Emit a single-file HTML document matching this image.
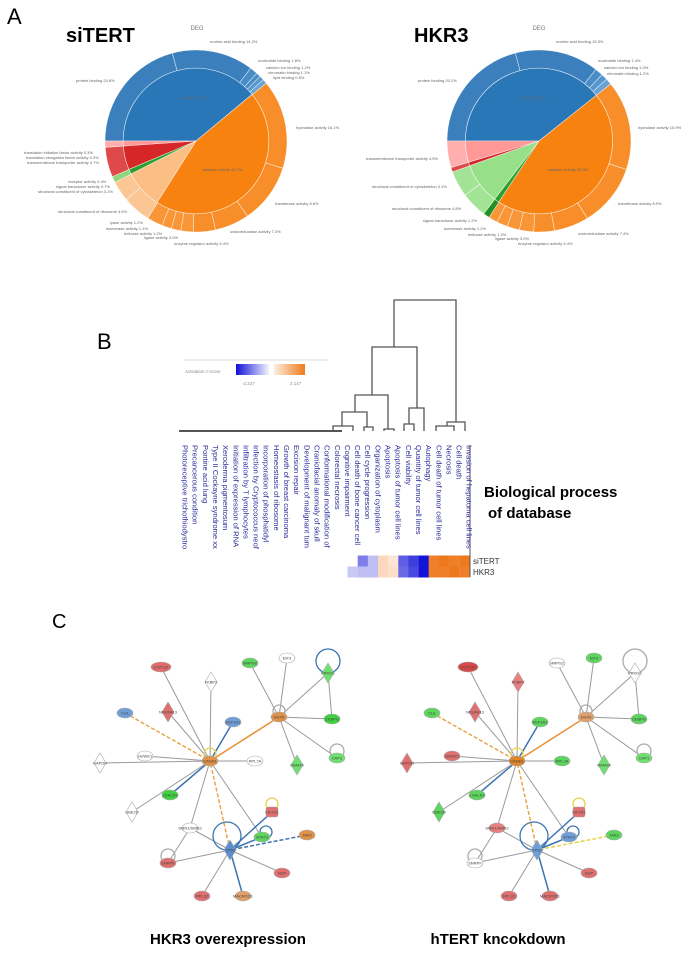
<!DOCTYPE html>
<html><head><meta charset="utf-8"><style>
html,body{margin:0;padding:0;background:#fff;}
svg{display:block;font-family:"Liberation Sans",sans-serif;}
</style></head><body>
<svg id="fig" width="688" height="953" viewBox="0 0 688 953" xmlns="http://www.w3.org/2000/svg">
<text x="7" y="24" font-size="22">A</text>
<text x="66" y="42" font-size="20" font-weight="bold">siTERT</text>
<text x="414" y="42" font-size="20" font-weight="bold">HKR3</text>
<text x="197" y="30" font-size="6" fill="#777" text-anchor="middle">DEG</text>
<text x="539" y="30" font-size="6" fill="#777" text-anchor="middle">DEG</text>
<g id="pies"></g>
<g id="pielabels" font-size="4" fill="#666">
<text x="210" y="43">nucleic acid binding 14.2%</text>
<text x="258" y="62">nucleotide binding 1.8%</text>
<text x="266" y="69">calcium ion binding 1.2%</text>
<text x="268" y="74">chromatin binding 1.1%</text>
<text x="273" y="79">lipid binding 0.5%</text>
<text x="76" y="82">protein binding 20.8%</text>
<text x="180" y="99">binding 39.7%</text>
<text x="296" y="129">hydrolase activity 16.1%</text>
<text x="24" y="154">translation initiation factor activity 0.3%</text>
<text x="26" y="159">translation elongation factor activity 0.3%</text>
<text x="27" y="164">transmembrane transporter activity 0.7%</text>
<text x="202" y="171">catalytic activity 44.7%</text>
<text x="68" y="183">receptor activity 0.4%</text>
<text x="56" y="188">signal transducer activity 0.7%</text>
<text x="38" y="193">structural constituent of cytoskeleton 3.1%</text>
<text x="275" y="205">transferase activity 8.6%</text>
<text x="58" y="213">structural constituent of ribosome 4.6%</text>
<text x="110" y="224">lyase activity 1.2%</text>
<text x="106" y="230">isomerase activity 1.1%</text>
<text x="124" y="235">helicase activity 1.2%</text>
<text x="144" y="239">ligase activity 3.0%</text>
<text x="230" y="233">oxidoreductase activity 7.3%</text>
<text x="174" y="245">enzyme regulator activity 4.4%</text>
<text x="556" y="43">nucleic acid binding 15.5%</text>
<text x="598" y="62">nucleotide binding 1.4%</text>
<text x="604" y="69">calcium ion binding 1.0%</text>
<text x="607" y="75">chromatin binding 1.2%</text>
<text x="418" y="82">protein binding 20.1%</text>
<text x="520" y="99">binding 39.9%</text>
<text x="638" y="129">hydrolase activity 15.9%</text>
<text x="366" y="160">transmembrane transporter activity 4.9%</text>
<text x="548" y="171">catalytic activity 44.3%</text>
<text x="372" y="188">structural constituent of cytoskeleton 3.1%</text>
<text x="392" y="210">structural constituent of ribosome 4.8%</text>
<text x="618" y="205">transferase activity 8.9%</text>
<text x="423" y="222">signal transducer activity 1.2%</text>
<text x="444" y="230">isomerase activity 1.2%</text>
<text x="468" y="236">helicase activity 1.2%</text>
<text x="495" y="240">ligase activity 3.0%</text>
<text x="578" y="235">oxidoreductase activity 7.4%</text>
<text x="518" y="245">enzyme regulator activity 4.4%</text>
</g>

<text x="97" y="349" font-size="22">B</text>
<g>
<line x1="184" y1="360" x2="328" y2="360" stroke="#ddd" stroke-width="1"/>
<defs>
<linearGradient id="gb" x1="0" x2="1"><stop offset="0" stop-color="#1010d8"/><stop offset="1" stop-color="#f4f4ff"/></linearGradient>
<linearGradient id="go" x1="0" x2="1"><stop offset="0" stop-color="#fdeede"/><stop offset="1" stop-color="#ee7a1c"/></linearGradient>
</defs>
<text x="185" y="373" font-size="4.5" fill="#888">Activation z-score</text>
<rect x="236" y="364" width="33" height="11" fill="url(#gb)"/>
<rect x="274" y="364" width="31" height="11" fill="url(#go)"/>
<text x="242" y="385" font-size="4.5" fill="#888">-2.227</text>
<text x="290" y="385" font-size="4.5" fill="#888">2.147</text>
</g>
<g id="dendro" stroke="#555" stroke-width="1.3" fill="none"></g>
<g id="heat"></g>
<text x="484" y="497" font-size="15" font-weight="bold">Biological process</text>
<text x="488" y="518" font-size="15" font-weight="bold">of database</text>

<text x="52" y="628" font-size="20">C</text>
<g id="netL"></g>
<g id="netR" transform="translate(307,0)"></g>
<text x="228" y="944" font-size="15" font-weight="bold" text-anchor="middle">HKR3 overexpression</text>
<text x="498" y="944" font-size="15" font-weight="bold" text-anchor="middle">hTERT kncokdown</text>
</svg>
<script>
const NS='http://www.w3.org/2000/svg';
function mk(tag,attrs,parent){const e=document.createElementNS(NS,tag);for(const k in attrs)e.setAttribute(k,attrs[k]);parent.appendChild(e);return e;}

/* ---------- Pie data (percent, starting at 9 o'clock, clockwise) ---------- */
const leftInnerVals=[39.2,45.3,8.6,1.1,5.3,1.1];
const leftInnerCols=['#2a77b8','#f7820f','#fbbf85','#2ca02c','#d62728','#ff9896'];
const leftOuterVals=[20.8,14.4,1.4,0.8,0.8,0.8,15.8,10.6,6.1,3.9,2.2,1.7,1.7,2.8,5.0,3.6,1.1,5.3,1.1];
const leftOuterCols=['#3b80bd','#3b80bd','#4a8cc6','#4a8cc6','#5696cc','#6aa3d3','#f78e2a','#f78e2a','#f78e2a','#f78e2a','#f89638','#f89638','#f89638','#f89638','#fcc594','#fcc594','#8fd67f','#de4a4a','#ffb0ae'];
const rightInnerVals=[39.2,45.0,1.1,9.2,0.8,4.7];
const rightInnerCols=['#2a77b8','#f7820f','#2ca02c','#98df8a','#d62728','#ff9896'];
const rightOuterVals=[20.8,14.7,1.4,1.1,1.1,15.8,11.1,6.1,3.6,2.5,2.2,1.9,1.6,1.1,4.6,4.6,0.8,4.7];
const rightOuterCols=['#3b80bd','#3b80bd','#4a8cc6','#5696cc','#6aa3d3','#f78e2a','#f78e2a','#f78e2a','#f78e2a','#f89638','#f89638','#f89638','#f89638','#238f23','#a3e396','#a3e396','#de4a4a','#ffb0ae'];

function drawPie(cx,cy,rx,ry,innerVals,innerCols,outerVals,outerCols,name){
  const g=mk('g',{},document.getElementById('pies'));
  
  
  function ring(vals,cols,r0,r1,kind){
    const tot=vals.reduce((a,b)=>a+b,0);let a=270;
    vals.forEach((v,i)=>{
      const a1=a+v/tot*360;
      const p=(ang,r)=>{const t=ang*Math.PI/180;return [cx+r*rx*Math.sin(t),cy-r*ry*Math.cos(t)];};
      const large=(a1-a)>180?1:0;
      const [x0,y0]=p(a,r1),[x1,y1]=p(a1,r1),[x2,y2]=p(a1,r0),[x3,y3]=p(a,r0);
      let d='M'+x0+' '+y0+' A'+(r1*rx)+' '+(r1*ry)+' 0 '+large+' 1 '+x1+' '+y1;
      if(r0>0) d+=' L'+x2+' '+y2+' A'+(r0*rx)+' '+(r0*ry)+' 0 '+large+' 0 '+x3+' '+y3+' Z';
      else d+=' L'+cx+' '+cy+' Z';
      const s=mk('path',{d:d,fill:cols[i],stroke:'#fff','stroke-width':'0.6','stroke-opacity':'0.7'},g);
      
      
      a=a1;
    });
  }
  ring(outerVals,outerCols,0.8,1,'outer');
  ring(innerVals,innerCols,0,0.8,'inner');
}
drawPie(196,141,91,91,leftInnerVals,leftInnerCols,leftOuterVals,leftOuterCols,'pie-siTERT');
drawPie(539,141,92,91,rightInnerVals,rightInnerCols,rightOuterVals,rightOuterCols,'pie-HKR3');

/* ---------- Panel B ---------- */
const bioLabels=['Photoreceptive trichothiodystro','Precancerous condition','Pontine acid lung','Type II Cockayne syndrome xx','Xeroderma pigmentosum','Initiation of expression of RNA','Infiltration by T lymphocytes','Infection by Cryptococcus neof','Incorporation of phosphatidyl','Homeostasis of ribosome','Growth of breast carcinoma','Excision repair','Development of malignant tum','Craniofacial anomaly of skull','Conformational modification of','Colorectal necrosis','Cognitive impairment','Cell death of bone cancer cell','Cell cycle progression','Organization of cytoplasm','Apoptosis','Apoptosis of tumor cell lines','Cell viability','Quantity of tumor cell lines','Autophagy','Cell death of tumor cell lines','Necrosis','Cell death','Invasion of hepatoma cell lines'];
const heatRows=['siTERT','HKR3'];
const heatStart=17;
const siTERTz=[0,-1.2,-0.6,0.6,0.4,-1.5,-1.8,-2.2,2.0,2.1,2.0,2.1];
const HKR3z=[-0.5,-0.6,-0.6,0.6,0.5,-1.4,-1.7,-2.2,2.0,2.0,2.1,2.0];
const zMin=-2.227, zMax=2.147;

const colX=i=>180+10.15*i;
const svgB=document.getElementById('fig');
const lg=mk('g',{'font-size':'7.6',fill:'#2a2a9a'},svgB);


bioLabels.forEach((t,i)=>{
  const x=colX(i)+2.5,y=445;
  const e=mk('text',{x:x,y:y,transform:'rotate(90 '+x+' '+y+')'},lg);
  e.textContent=t;
  
  
});
function zColor(z){
  const mix=(c,t)=>{const w=[255,255,255];return 'rgb('+c.map((v,k)=>Math.round(w[k]+(v-w[k])*t)).join(',')+')';};
  if(z<0) return mix([16,16,216],Math.min(1,z/zMin));
  return mix([238,118,24],Math.min(1,z/zMax));
}
const heat=document.getElementById('heat');
[siTERTz,HKR3z].forEach((row,r)=>{
  row.forEach((z,j)=>{
    const x=colX(heatStart+j)-5;
    const c=mk('rect',{x:x,y:555.5+r*11,width:10.3,height:11,fill:zColor(z)},heat);
    
    
  });
  const t=mk('text',{x:473,y:564+r*11,'font-size':'8',fill:'#333'},heat);
  t.textContent=heatRows[r];
  
  
});
mk('line',{x1:470,y1:445,x2:470,y2:577,stroke:'#555','stroke-width':'1'},heat);

/* dendrogram links: [leftX,rightX,joinY,leftBottomY,rightBottomY] */
const dendroLinks=[[394,456,300,347,422],[372,417,347,395,408],[355,388,395,412,429],[342,367,412,426,427],[333,353,426,431,431],[364,373,427,431,431],[384,394,429,431,431],[409,424,408,424,431],[404,414,424,431,431],[447,465,422,426,431],[436,454,426,431,431]];
const dg=document.getElementById('dendro');
dendroLinks.forEach(l=>{
  const p=mk('path',{d:'M'+l[0]+' '+l[3]+' V'+l[2]+' H'+l[1]+' V'+l[4]},dg);
  
  
});
mk('line',{x1:179,y1:431,x2:342,y2:431,'stroke-width':'2'},dg);

/* ---------- Panel C networks ---------- */
const nodes={
 CCP:[161,667,'e'],FKBP2:[211,682,'d'],NDUFA13:[168,712,'d'],CUL:[125,713,'e'],EEF1A1:[233,722,'e'],
 HUB:[210,761,'e'],HUWE1:[145,756,'e'],GAPDH:[100,763,'d'],RPL7A:[255,761,'e'],HUB2:[279,717,'e'],
 MRPS2:[250,663,'e'],EPF3:[287,658,'e'],PRK:[328,673,'d'],C6:[332,719,'e'],CAP:[337,758,'e'],
 RBM34:[297,765,'d'],LGALS3:[170,795,'e'],UBE2D:[132,812,'d'],SMN:[190,828,'e'],EIF:[272,812,'r'],
 STAT3:[262,837,'e'],JAK:[307,835,'e'],DHUB:[230,850,'d'],SNRP:[168,863,'e'],RED1:[282,873,'e'],
 RPL32:[202,896,'e'],MAC:[243,896,'e']
};
const edgesN=[['CCP','HUB','g'],['FKBP2','HUB','g'],['NDUFA13','HUB','g'],['CUL','HUB','od'],['EEF1A1','HUB','b'],['HUWE1','HUB','g'],['GAPDH','HUB','g'],['RPL7A','HUB','g'],['HUB2','HUB','o'],['MRPS2','HUB2','g'],['EPF3','HUB2','g'],['PRK','HUB2','g'],['C6','HUB2','g'],['CAP','HUB2','g'],['RBM34','HUB2','g'],['PRK','C6','g'],['LGALS3','HUB','b'],['UBE2D','HUB','g'],['DHUB','HUB','od'],['STAT3','HUB','g'],['SMN','HUB','g'],['SMN','DHUB','g'],['SMN','SNRP','g'],['SNRP','DHUB','g'],['EIF','DHUB','b'],['STAT3','DHUB','b'],['JAK','DHUB','bd'],['RED1','DHUB','g'],['RPL32','DHUB','g'],['MAC','DHUB','b']];
const loops=[['PRK',0,-12,12],['HUB2',0,-6,6],['CAP',0,-7,7],['HUB',0,-7,6],['EIF',0,-8,6],['STAT3',4,-5,6],['DHUB',-3,-14,14],['SNRP',0,-7,7]];
const loopColsL=['#3b74b0','#aaa','#aaa','#e6d24a','#e6d24a','#3b74b0','#3b74b0','#aaa'];
const loopColsR=['#aaa','#aaa','#aaa','#e6d24a','#e6d24a','#3b74b0','#3b74b0','#aaa'];
const leftCols={CCP:'#e06b6b',FKBP2:'#fff',NDUFA13:'#e07070',CUL:'#6f9fd8',EEF1A1:'#6f9fd8',HUB:'#e0914a',HUWE1:'#fff',GAPDH:'#fff',RPL7A:'#fff',HUB2:'#e0914a',MRPS2:'#5cd65c',EPF3:'#fff',PRK:'#6fe06f',C6:'#3fd23f',CAP:'#6fe06f',RBM34:'#6fe06f',LGALS3:'#3fd23f',UBE2D:'#fff',SMN:'#fff',EIF:'#e07070',STAT3:'#5cd65c',JAK:'#e0914a',DHUB:'#5b8fd0',SNRP:'#e07070',RED1:'#e07070',RPL32:'#e07070',MAC:'#e0a06a'};
const rightCols={CCP:'#d94848',FKBP2:'#e88080',NDUFA13:'#e07070',CUL:'#5cd65c',EEF1A1:'#5cd65c',HUB:'#e0842a',HUWE1:'#e07070',GAPDH:'#e07070',RPL7A:'#5cd65c',HUB2:'#e0a06a',MRPS2:'#fff',EPF3:'#5cd65c',PRK:'#fff',C6:'#5cd65c',CAP:'#6fe06f',RBM34:'#6fe06f',LGALS3:'#5cd65c',UBE2D:'#5cd65c',SMN:'#e88080',EIF:'#e07070',STAT3:'#6f9fd8',JAK:'#5cd65c',DHUB:'#6f9fd8',SNRP:'#fff',RED1:'#e07070',RPL32:'#e07070',MAC:'#e07070'};
const nodeText={CCP:'CCP110',FKBP2:'FKBP2',NDUFA13:'NDUFA13',CUL:'CUL',EEF1A1:'EEF1A1',HUB:'CAND1',HUWE1:'HUWE1',GAPDH:'GAPDH',RPL7A:'RPL7A',HUB2:'DHX9',MRPS2:'MRPS2',EPF3:'EIF3',PRK:'PRKDC',C6:'CEBPG',CAP:'CAP1',RBM34:'RBM34',LGALS3:'LGALS3',UBE2D:'UBE2D',SMN:'SMN1/SMN2',EIF:'EIF2S1',STAT3:'STAT3',JAK:'JAK2',DHUB:'TP53',SNRP:'SNRPF',RED1:'NUP',RPL32:'RPL32',MAC:'MACROD1'};
function drawNet(gid,cols,jakStyle,loopCols){
  const g=document.getElementById(gid);
  edgesN.forEach(e=>{
    const a=nodes[e[0]],b=nodes[e[1]];let st={g:['#9a9a9a',1,''],o:['#e8923a',1.6,''],od:['#e8a040',1.4,'4 2'],b:['#3b74b0',1.5,''],bd:[jakStyle,1.5,'4 2']}[e[2]];
    const l=mk('line',{x1:a[0],y1:a[1],x2:b[0],y2:b[1],stroke:st[0],'stroke-width':st[1],'stroke-dasharray':st[2]},g);
    
    
  });
  loops.forEach((L,i)=>{const n=nodes[L[0]];
    const c=mk('circle',{cx:n[0]+L[1],cy:n[1]+L[2],r:L[3],fill:'none',stroke:loopCols[i],'stroke-width':'1.3'},g);
    
    
  });
  for(const k in nodes){const n=nodes[k];let s;
    if(n[2]==='d') s=mk('polygon',{points:(n[0])+','+(n[1]-10)+' '+(n[0]+6)+','+n[1]+' '+n[0]+','+(n[1]+10)+' '+(n[0]-6)+','+n[1],fill:cols[k],stroke:'#aaa','stroke-width':'0.6'},g);
    else if(n[2]==='r') s=mk('rect',{x:n[0]-6,y:n[1]-5,width:12,height:10,rx:2,fill:cols[k],stroke:'#aaa','stroke-width':'0.6'},g);
    else s=mk('ellipse',{cx:n[0],cy:n[1],rx:k==='CCP'?10:8,ry:5,fill:cols[k],stroke:'#aaa','stroke-width':'0.6'},g);
    
    
    const t=mk('text',{x:n[0],y:n[1]+1.5,'font-size':'4','text-anchor':'middle',fill:'#444'},g);
    t.textContent=nodeText[k];
    
    
  }
}
drawNet('netL',leftCols,'#3b74b0',loopColsL);
drawNet('netR',rightCols,'#e6d24a',loopColsR);
</script>
</body></html>
